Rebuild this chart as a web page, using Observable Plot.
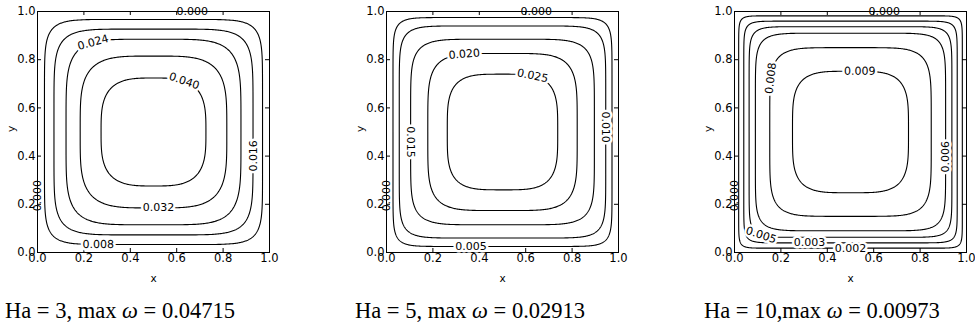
<!DOCTYPE html>
<html>
<head>
<meta charset="utf-8">
<script src="https://cdn.jsdelivr.net/npm/d3@7"></script>
<script src="https://cdn.jsdelivr.net/npm/@observablehq/plot@0.6"></script>
<style>
  html, body { margin: 0; padding: 0; background: #fff; width: 975px; height: 335px; overflow: hidden; }
  #wrap { position: relative; width: 975px; height: 335px; }
  .panel { position: absolute; top: 0; }
  .cap { position: absolute; top: 300px; font-family: "Liberation Serif", "DejaVu Serif", serif; font-size: 22.5px; line-height: 22px; white-space: nowrap; color: #000; }
</style>
</head>
<body>
<div id="wrap"></div>
<script>
// Hartmann number and peak value of each run
const hartmann = [3, 5, 10];
const maxOmega = ["0.04715", "0.02913", "0.00973"];

// Axis ticks shared by every panel
const ticks = [0, 0.2, 0.4, 0.6, 0.8, 1.0];

// Ha = 3: contour levels, half-width / half-height of each closed contour, corner squareness
const levelsHa3 = [0.008, 0.016, 0.024, 0.032, 0.040];
const halfWidthHa3 = [0.470, 0.429, 0.377, 0.316, 0.226];
const halfHeightHa3 = [0.467, 0.427, 0.385, 0.315, 0.224];
const squarenessHa3 = [8.5, 6.5, 5, 4, 3.3];
// inline labels: level and direction (deg) from the duct centre
const labelLevelHa3 = [0.024, 0.040, 0.016, 0.032, 0.008];
const labelDirHa3 = [125, 58, -13, -86, -117];
// labels of the wall contour (0.000)
const wallLabelXHa3 = [0.667, 0];
const wallLabelYHa3 = [1, 0.236];

// Ha = 5
const levelsHa5 = [0.005, 0.010, 0.015, 0.020, 0.025];
const halfWidthHa5 = [0.472, 0.445, 0.396, 0.322, 0.238];
const halfHeightHa5 = [0.475, 0.44, 0.385, 0.326, 0.24];
const squarenessHa5 = [12, 9, 6.5, 4.8, 3.8];
const labelLevelHa5 = [0.020, 0.025, 0.015, 0.010, 0.005];
const labelDirHa5 = [117, 61, 186, 2.6, -106];
const wallLabelXHa5 = [0.645, 0];
const wallLabelYHa5 = [1, 0.236];

// Ha = 10
const levelsHa10 = [0.0015, 0.003, 0.0045, 0.006, 0.0075, 0.009];
const halfWidthHa10 = [0.482, 0.46, 0.437, 0.41, 0.348, 0.25];
const halfHeightHa10 = [0.482, 0.46, 0.437, 0.41, 0.35, 0.252];
const squarenessHa10 = [24, 17, 12, 8.5, 5.8, 4];
const labelLevelHa10 = [0.0075, 0.009, 0.006, 0.0045, 0.003, 0.0015];
const labelDirHa10 = [147, 81, -14, -132, -111, -90];
const wallLabelXHa10 = [0.646, 0];
const wallLabelYHa10 = [1, 0.236];

const panels = [
  {levels: levelsHa3, a: halfWidthHa3, b: halfHeightHa3, n: squarenessHa3, labelLevel: labelLevelHa3, labelDir: labelDirHa3, wallX: wallLabelXHa3, wallY: wallLabelYHa3},
  {levels: levelsHa5, a: halfWidthHa5, b: halfHeightHa5, n: squarenessHa5, labelLevel: labelLevelHa5, labelDir: labelDirHa5, wallX: wallLabelXHa5, wallY: wallLabelYHa5},
  {levels: levelsHa10, a: halfWidthHa10, b: halfHeightHa10, n: squarenessHa10, labelLevel: labelLevelHa10, labelDir: labelDirHa10, wallX: wallLabelXHa10, wallY: wallLabelYHa10}
];

const fmt = v => (Math.round(v * 1000) / 1000).toFixed(3);

// frame geometry (px)
const marginLeft = 37, marginTop = 11, innerW = 232, innerH = 241, svgH = 295;
const panelLeft = [0, 349, 697];
const tickLen = 4;

// closed iso-lines traced as rounded squares around the duct centre
function contourRows(p) {
  const rows = [];
  p.levels.forEach((level, i) => {
    const a = p.a[i], b = p.b[i], e = 2 / p.n[i];
    for (let k = 0; k < 400; k++) {
      const t = (k / 400) * 2 * Math.PI;
      const c = Math.cos(t), s = Math.sin(t);
      rows.push({
        level,
        x: 0.5 + a * Math.sign(c) * Math.pow(Math.abs(c), e),
        y: 0.5 + b * Math.sign(s) * Math.pow(Math.abs(s), e)
      });
    }
  });
  return rows;
}

// inline label sitting on its contour, turned along the line
function labelRows(p) {
  return p.labelLevel.map((level, j) => {
    const i = p.levels.indexOf(level);
    const a = p.a[i], b = p.b[i], n = p.n[i];
    const phi = p.labelDir[j] * Math.PI / 180;
    const u = Math.cos(phi), v = Math.sin(phi);
    const r = Math.pow(Math.pow(Math.abs(u / a), n) + Math.pow(Math.abs(v / b), n), -1 / n);
    const gx = Math.sign(u) * Math.pow(Math.abs(r * u / a), n - 1) / a;
    const gy = Math.sign(v) * Math.pow(Math.abs(r * v / b), n - 1) / b;
    let angle = Math.atan2(-gx * innerH, -gy * innerW) * 180 / Math.PI;
    if (angle > 90) angle -= 180;
    else if (angle <= -90) angle += 180;
    return {x: 0.5 + r * u, y: 0.5 + r * v, angle, text: fmt(level)};
  });
}

const wrap = document.getElementById("wrap");

panels.forEach((p, idx) => {
  const width = Math.min(348, 975 - panelLeft[idx]);
  const wall = p.wallX.map((x, j) => ({x, y: p.wallY[j], text: fmt(0), angle: j === 0 ? 0 : -90}));
  const chart = Plot.plot({
    width,
    height: svgH,
    marginLeft,
    marginTop,
    marginRight: width - marginLeft - innerW,
    marginBottom: svgH - marginTop - innerH,
    style: {fontFamily: "DejaVu Sans, sans-serif", fontSize: "11px", background: "transparent", color: "#000"},
    x: {domain: [0, 1]},
    y: {domain: [0, 1]},
    marks: [
      Plot.line(contourRows(p), {x: "x", y: "y", z: "level", curve: "linear-closed", stroke: "#000", strokeWidth: 1.1}),
      Plot.frame({stroke: "#000", strokeWidth: 1}),
      // inward ticks on all four sides
      Plot.tickX(ticks, {x: d => d, insetTop: innerH - tickLen, stroke: "#000"}),
      Plot.tickX(ticks, {x: d => d, insetBottom: innerH - tickLen, stroke: "#000"}),
      Plot.tickY(ticks, {y: d => d, insetRight: innerW - tickLen, stroke: "#000"}),
      Plot.tickY(ticks, {y: d => d, insetLeft: innerW - tickLen, stroke: "#000"}),
      Plot.axisX({ticks, tickFormat: ".1f", tickSize: 0, tickPadding: 1, label: null, fontSize: 11.5}),
      Plot.axisY({ticks, tickFormat: ".1f", tickSize: 0, tickPadding: 2, label: null, fontSize: 11.5}),
      Plot.text(["x"], {frameAnchor: "bottom", dy: 29, fontSize: 10.5, text: d => d}),
      Plot.text(["y"], {frameAnchor: "left", dx: -26, rotate: -90, fontSize: 10.5, text: d => d}),
      Plot.text(wall, {x: "x", y: "y", text: "text", rotate: "angle", fontSize: 11}),
      Plot.text(labelRows(p), {x: "x", y: "y", text: "text", rotate: "angle", fontSize: 11, fill: "#000", stroke: "#fff", strokeWidth: 5})
    ]
  });
  chart.classList.add("panel");
  chart.style.left = panelLeft[idx] + "px";
  wrap.appendChild(chart);
});

// captions under the panels
const capLeft = [5, 355, 704];
hartmann.forEach((ha, i) => {
  const d = document.createElement("div");
  d.className = "cap";
  d.style.left = capLeft[i] + "px";
  const sep = i === 2 ? "," : ", ";
  d.innerHTML = `Ha = ${ha}${sep}max <i>ω</i> = ${maxOmega[i]}`;
  wrap.appendChild(d);
});
</script>
</body>
</html>
